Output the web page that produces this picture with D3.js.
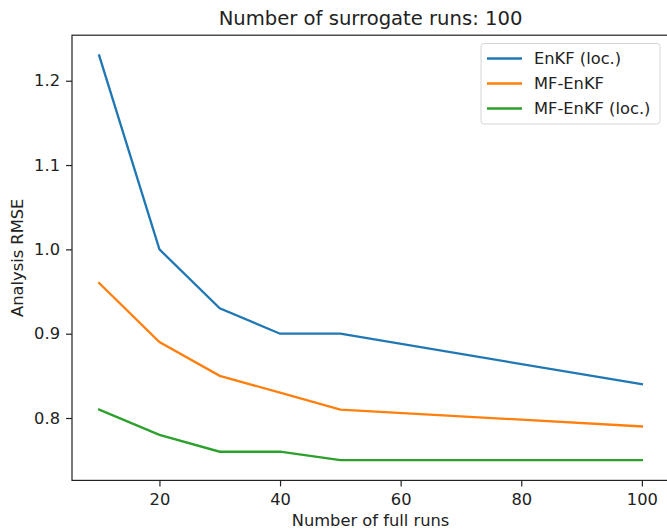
<!DOCTYPE html>
<html><head><meta charset="utf-8">
<script src="https://cdn.jsdelivr.net/npm/d3@7"></script>
<style>body{margin:0;background:#fff}svg{display:block}text{font-family:"DejaVu Sans",sans-serif;fill:#222}</style>
</head><body>
<svg id="c" width="667" height="529"></svg>
<script>
const xValues = [10, 20, 30, 40, 50, 100];
const enkfLoc = [1.23, 1.00, 0.93, 0.90, 0.90, 0.84];
const mfEnkf = [0.96, 0.89, 0.85, 0.83, 0.81, 0.79];
const mfEnkfLoc = [0.81, 0.78, 0.76, 0.76, 0.75, 0.75];
const seriesNames = ["EnKF (loc.)", "MF-EnKF", "MF-EnKF (loc.)"];
const seriesColors = ["#1f77b4", "#ff7f0e", "#2ca02c"];
const xTicks = [20, 40, 60, 80, 100];
const yTicks = [0.8, 0.9, 1.0, 1.1, 1.2];
const title = "Number of surrogate runs: 100";
const xLabel = "Number of full runs";
const yLabel = "Analysis RMSE";

const svg = d3.select("#c");
const L = 72, R = 669, T = 35.2, B = 480.4;
const x = d3.scaleLinear().domain([5.5, 104.5]).range([L, R]);
const y = d3.scaleLinear().domain([0.726, 1.254]).range([B, T]);
const fs = "16.3px";

const series = [enkfLoc, mfEnkf, mfEnkfLoc];
const line = d3.line().x((d, i) => x(xValues[i])).y(d => y(d));
series.forEach((s, k) => {
  svg.append("path").datum(s).attr("d", line).attr("fill", "none")
    .attr("stroke", seriesColors[k]).attr("stroke-width", 2.3).attr("stroke-linecap", "square");
});

const xa = svg.append("g").attr("transform", `translate(0,${B})`)
  .call(d3.axisBottom(x).tickValues(xTicks).tickFormat(d3.format("d")).tickSize(6).tickPadding(7));
const ya = svg.append("g").attr("transform", `translate(${L},0)`)
  .call(d3.axisLeft(y).tickValues(yTicks).tickFormat(d3.format(".1f")).tickSize(6).tickPadding(6));
[xa, ya].forEach(a => {
  a.select(".domain").remove();
  a.selectAll("line").attr("stroke", "#222").attr("stroke-width", 1.2);
  a.selectAll("text").style("font-size", fs).attr("fill", "#222");
});
svg.append("rect").attr("x", L).attr("y", T).attr("width", R - L).attr("height", B - T)
  .attr("fill", "none").attr("stroke", "#222").attr("stroke-width", 1.2);

svg.append("text").attr("x", (L + R) / 2).attr("y", 25).attr("text-anchor", "middle")
  .style("font-size", "19.6px").text(title);
svg.append("text").attr("x", (L + R) / 2).attr("y", 526).attr("text-anchor", "middle")
  .style("font-size", fs).text(xLabel);
svg.append("text").attr("transform", `translate(23,${(T + B) / 2}) rotate(-90)`).attr("text-anchor", "middle")
  .style("font-size", fs).text(yLabel);

const lg = svg.append("g");
lg.append("rect").attr("x", 481).attr("y", 43.5).attr("width", 179).attr("height", 80.5).attr("rx", 3)
  .attr("fill", "#fff").attr("fill-opacity", 0.8).attr("stroke", "#d6d6d6").attr("stroke-width", 1);
seriesNames.forEach((n, k) => {
  const yy = 58.5 + k * 25;
  lg.append("line").attr("x1", 487).attr("x2", 522).attr("y1", yy).attr("y2", yy)
    .attr("stroke", seriesColors[k]).attr("stroke-width", 2.3);
  lg.append("text").attr("x", 534).attr("y", yy + 5.5).style("font-size", fs).text(n);
});
</script>
</body></html>
